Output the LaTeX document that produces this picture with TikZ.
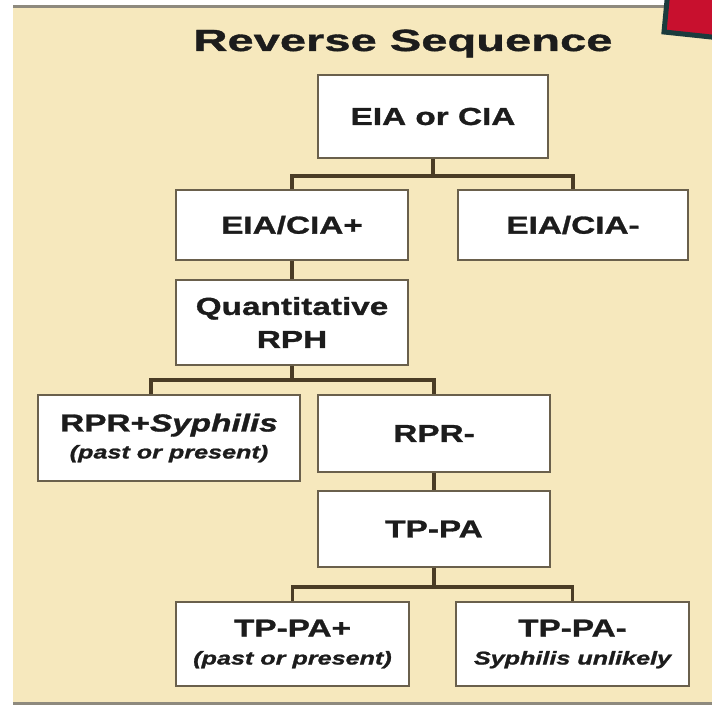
\documentclass[tikz,border=0pt]{standalone}
\usepackage{fontspec}
\newfontfamily\boxfont{Liberation Sans}[FakeStretch=1.36, FakeBold=1.2]
\newfontfamily\headfont{Liberation Sans}[FakeStretch=1.54, FakeBold=1.2]
\newcommand\smallnote{\boxfont\bfseries\itshape\fontsize{18.5}{27}\selectfont}
\definecolor{panel}{HTML}{F6E8BD}
\definecolor{rulecol}{HTML}{8E8A7E}
\definecolor{ink}{HTML}{1C1C1C}
\definecolor{boxedge}{HTML}{6A604C}
\definecolor{linkcol}{HTML}{4A3C25}
\definecolor{flagred}{HTML}{C8102E}
\definecolor{flagedge}{HTML}{1B3B3D}
\begin{document}
\begin{tikzpicture}[x=1pt,y=-1pt,
  flowbox/.style={draw=boxedge, line width=1.8pt, fill=white, align=center,
    inner sep=0pt, text=ink, font=\boxfont\bfseries\fontsize{24.5}{33}\selectfont},
  link/.style={draw=linkcol, line width=3.5pt},
  rule/.style={draw=rulecol, line width=3pt}]
\useasboundingbox (0,0) rectangle (712,708);
% page and panel
\fill[white] (0,0) rectangle (712,708);
\fill[panel] (13,7) rectangle (712,703);
\draw[rule] (13,6.5) -- (712,6.5);
\draw[rule] (13,703.5) -- (712,703.5);
% corner tab
\begin{scope}
  \clip (0,0) rectangle (712,708);
  \draw[line width=5pt, draw=flagedge, fill=flagred]
    (668,-10) -- (664,32) -- (730,39) -- (730,-10) -- cycle;
\end{scope}
% heading
\node[font=\headfont\bfseries\fontsize{30.6}{36}\selectfont, text=ink, anchor=base]
  (title) at (403,51) {Reverse Sequence};
% boxes
\node[flowbox, minimum width=230pt, minimum height=83pt] (b1) at (433,116.5) {EIA or CIA};
\node[flowbox, minimum width=232pt, minimum height=70pt] (b2) at (292,225) {EIA/CIA+};
\node[flowbox, minimum width=230pt, minimum height=70pt] (b3) at (573,225) {EIA/CIA-};
\node[flowbox, minimum width=232pt, minimum height=85pt] (b4) at (292,322.5) {Quantitative\\RPH};
\node[flowbox, minimum width=262pt, minimum height=86pt] (b5) at (169,438)
  {RPR+\textit{Syphilis}\\[-6pt]{\smallnote (past or present)}};
\node[flowbox, minimum width=232pt, minimum height=77pt] (b6) at (434,433.5) {RPR-};
\node[flowbox, minimum width=232pt, minimum height=76pt] (b7) at (434,529) {TP-PA};
\node[flowbox, minimum width=233pt, minimum height=84pt] (b8) at (292.5,644)
  {TP-PA+\\[-5pt]{\smallnote (past or present)}};
\node[flowbox, minimum width=233pt, minimum height=84pt] (b9) at (572.5,644)
  {TP-PA-\\[-5pt]{\smallnote Syphilis unlikely}};
% connectors
\coordinate (b5top) at ([xshift=114pt]b5.north west);
\draw[link] (b1.south) -- ++(0,17) coordinate (j1);
\draw[link] (b2.north) |- (j1) -| (b3.north);
\draw[link] (b2.south) -- (b4.north);
\draw[link] (b4.south) -- ++(0,14) coordinate (j2);
\draw[link] (b5top) |- (j2) -| (b6.north);
\draw[link] (b6.south) -- (b7.north);
\draw[link] (b7.south) -- ++(0,19) coordinate (j3);
\draw[link] (b8.north) |- (j3) -| (b9.north);
\end{tikzpicture}
\end{document}
